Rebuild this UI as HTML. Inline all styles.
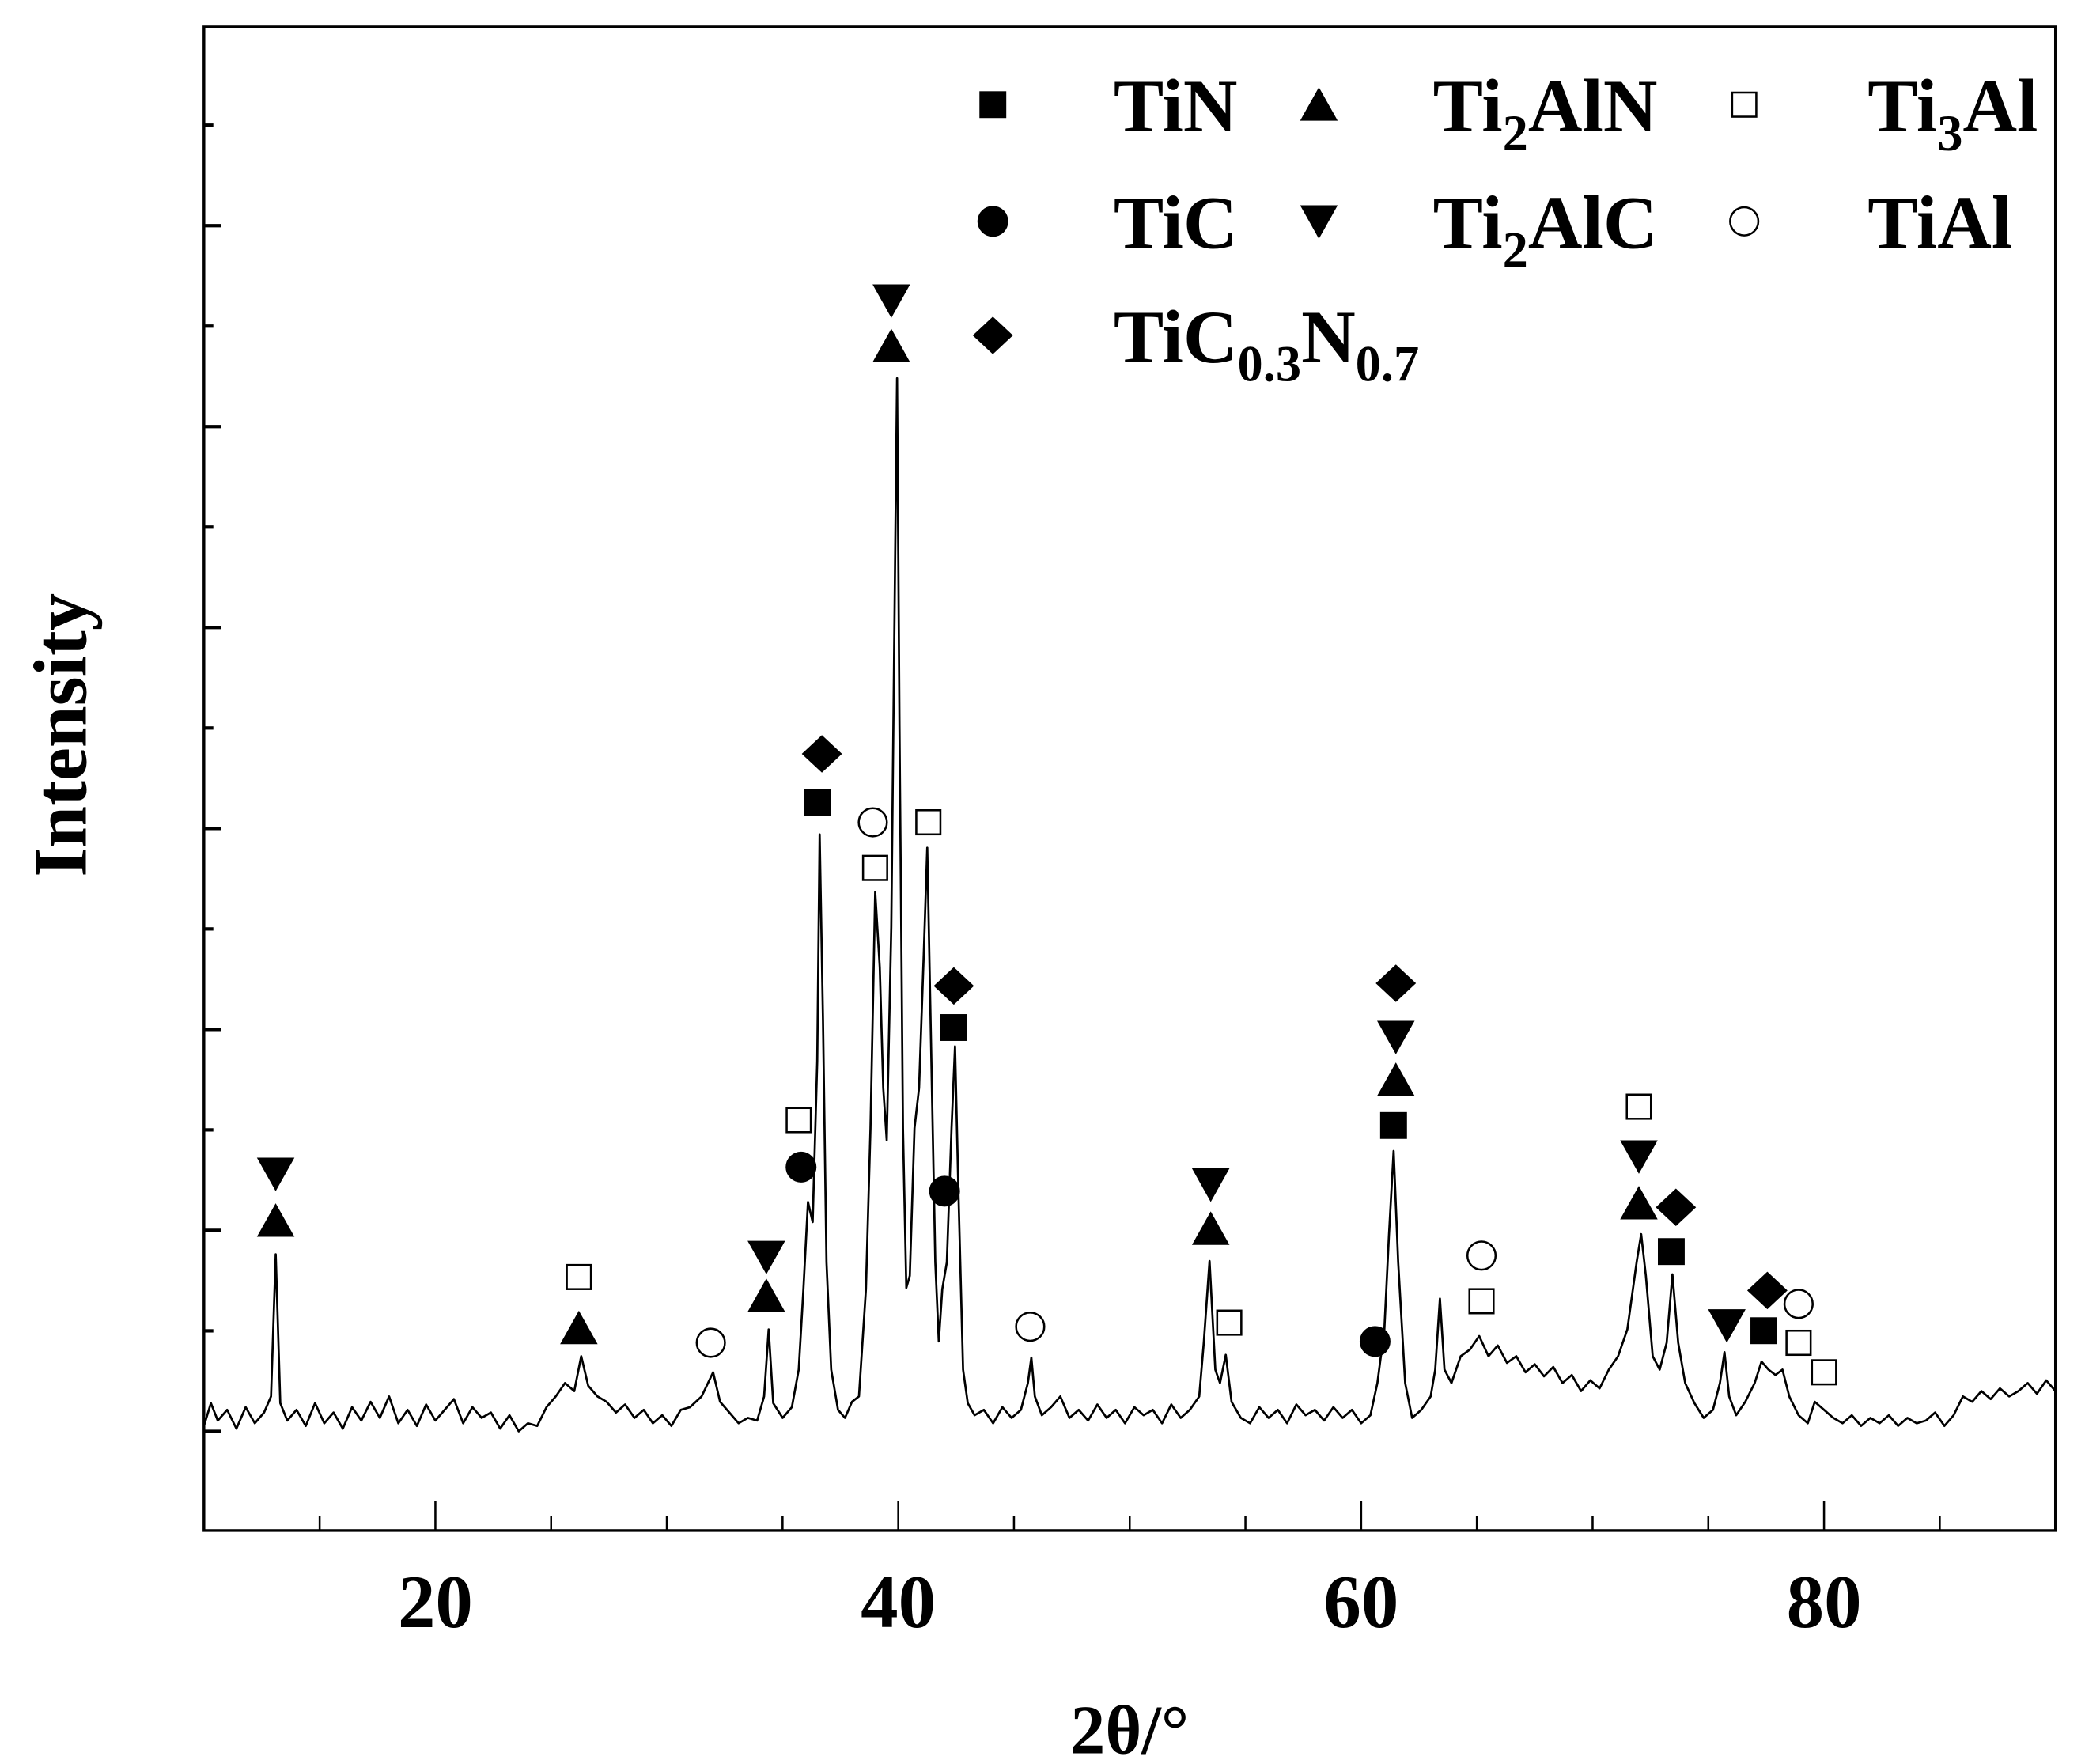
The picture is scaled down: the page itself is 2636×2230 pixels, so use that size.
<!DOCTYPE html>
<html><head><meta charset="utf-8"><style>
html,body{margin:0;padding:0;background:#fff;}
svg{display:block;}
text{font-family:"Liberation Serif",serif;font-weight:bold;fill:#000;}
</style></head><body>
<svg id="chart" width="2636" height="2230" viewBox="0 0 1554 1315" preserveAspectRatio="none" xmlns="http://www.w3.org/2000/svg">
<g id="frame"></g>
<g id="ticks"></g>
<g id="series"></g>
<g id="marks"></g>
<g id="legend"></g>
<text x="842" y="1307" font-size="52" text-anchor="middle">2θ/°</text>
<text x="0" y="0" font-size="56" text-anchor="middle" transform="translate(64,548) rotate(-90)">Intensity</text>
</svg>
<script>
const twoTheta = [10,10.3,10.6,11,11.4,11.8,12.2,12.6,12.9,13.1,13.3,13.6,14,14.4,14.8,15.2,15.6,16,16.4,16.8,17.2,17.6,18,18.4,18.8,19.2,19.6,20,20.4,20.8,21.2,21.6,22,22.4,22.8,23.2,23.6,24,24.4,24.8,25.2,25.6,26,26.3,26.6,27,27.4,27.8,28.2,28.6,29,29.4,29.8,30.2,30.6,31,31.5,32,32.3,32.7,33.1,33.5,33.9,34.2,34.4,34.6,35,35.4,35.7,35.9,36.1,36.3,36.5,36.6,36.75,36.9,37.1,37.4,37.7,38,38.3,38.6,38.8,39.0,39.2,39.35,39.5,39.7,39.85,39.95,40.05,40.2,40.35,40.5,40.7,40.9,41.1,41.25,41.4,41.6,41.75,41.9,42.1,42.3,42.45,42.6,42.8,43,43.3,43.7,44.1,44.5,44.9,45.3,45.6,45.75,45.9,46.2,46.6,47,47.4,47.8,48.2,48.6,49,49.4,49.8,50.2,50.6,51,51.4,51.8,52.2,52.6,53,53.2,53.45,53.7,53.9,54.15,54.4,54.8,55.2,55.6,56,56.4,56.8,57.2,57.6,58,58.4,58.8,59.2,59.6,60,60.4,60.7,61.0,61.2,61.4,61.6,61.9,62.2,62.6,63,63.2,63.4,63.6,63.9,64.3,64.7,65.1,65.5,65.9,66.3,66.7,67.1,67.5,67.9,68.3,68.7,69.1,69.5,69.9,70.3,70.7,71.1,71.5,71.9,72.1,72.3,72.6,72.9,73.2,73.45,73.7,74,74.4,74.8,75.2,75.5,75.7,75.9,76.2,76.6,77,77.3,77.6,77.9,78.2,78.5,78.9,79.3,79.6,80,80.4,80.8,81.2,81.6,82,82.4,82.8,83.2,83.6,84,84.4,84.8,85.2,85.6,86,86.4,86.8,87.2,87.6,88,88.4,88.8,89.2,89.6,90];
const intensity = [78,95,82,90,76,92,80,88,100,206,95,82,90,78,95,80,88,76,92,82,96,84,100,80,90,78,94,82,90,98,80,92,84,88,76,86,74,80,78,92,100,110,104,130,108,100,96,88,94,84,90,80,86,78,90,92,100,118,96,88,80,84,82,100,150,95,84,92,120,180,245,230,350,519,380,200,120,90,84,96,100,180,300,476,420,330,291,450,700,859,600,300,181,190,300,330,430,509,380,200,141,180,200,300,361,250,120,95,86,90,80,92,84,90,110,129,100,86,92,100,84,90,82,94,84,90,80,92,86,90,80,94,84,90,100,140,201,120,110,131,96,84,80,92,84,90,80,94,86,90,82,92,84,90,80,86,110,150,220,283,200,110,84,90,100,120,173,120,110,130,135,145,130,138,125,130,118,124,115,122,110,116,104,112,106,120,130,150,200,221,190,130,120,140,191,140,110,95,84,90,110,133,100,86,96,110,126,120,116,120,100,86,80,96,90,84,80,86,78,84,80,86,78,84,80,82,88,78,86,100,96,104,98,106,100,104,110,102,112,104];
const xTickValues = [20,40,60,80];
const xTickLabels = ["20","40","60","80"];
const markerTypes = ["dtri","tri","osq","tri","ocirc","dtri","tri","osq","circ","dia","sq","ocirc","osq","dtri","tri","osq","dia","sq","circ","ocirc","dtri","tri","osq","circ","dia","dtri","tri","sq","ocirc","osq","osq","dtri","tri","dia","sq","dtri","dia","sq","ocirc","osq","osq"];
const markerTheta = [13.1,13.1,26.2,26.2,31.9,34.3,34.3,35.7,35.8,36.7,36.5,38.9,39.0,39.7,39.7,41.3,42.4,42.4,42.0,45.7,53.5,53.5,54.3,60.6,61.5,61.5,61.5,61.4,65.2,65.2,72.0,72.0,72.0,73.6,73.4,75.8,77.55,77.4,78.9,78.9,80.0];
const markerI = [266,231,189,151,140,204,175,306,271,579,543,528,494,917,883,528,406,375,253,152,258,225,155,141,408,368,336,302,205,171,316,279,244,241,208,153,179,149,169,140,118];

const NS="http://www.w3.org/2000/svg";
const L=152,R=1532,T=20,B=1141;
function xs(v){return L+(v-10)/80*(R-L);}
function ys(v){return B-v;}
function mk(tag,attrs,parent){const e=document.createElementNS(NS,tag);for(const k in attrs)e.setAttribute(k,attrs[k]);parent.appendChild(e);return e;}
const frame=document.getElementById('frame');
const fr=mk('rect',{x:L,y:T,width:R-L,height:B-T,fill:'none',stroke:'#000','stroke-width':2},frame);


const tk=document.getElementById('ticks');
for(let v=10;v<=90;v+=5){
  const major=xTickValues.includes(v);
  if(v===10||v===90)continue;
  const l=mk('line',{x1:xs(v),x2:xs(v),y1:B,y2:B-(major?22:11),stroke:'#000','stroke-width':1.5},tk);
  
  
}
xTickValues.forEach((v,i)=>{
  const t=mk('text',{x:xs(v),y:1213,'font-size':56,'text-anchor':'middle'},tk);
  t.textContent=xTickLabels[i];
  
  
});
for(let k=0;k<14;k++){
  const y=1067-k*74.9;
  if(y<T+10)break;
  const major=k%2===0;
  const l=mk('line',{x1:L,x2:L+(major?13:7),y1:y,y2:y,stroke:'#000','stroke-width':2.5},tk);
  
  
}
const ser=document.getElementById('series');
let d='';
twoTheta.forEach((v,i)=>{d+=(i?'L':'M')+xs(v).toFixed(1)+','+ys(intensity[i]).toFixed(1);});
const p=mk('path',{d:d,fill:'none',stroke:'#000','stroke-width':1.6,'stroke-linejoin':'round'},ser);


function marker(type,cx,cy,parent){
  let e;
  if(type==='sq')e=mk('rect',{x:cx-10,y:cy-10,width:20,height:20,fill:'#000'},parent);
  else if(type==='osq')e=mk('rect',{x:cx-9,y:cy-9,width:18,height:18,fill:'#fff',stroke:'#000','stroke-width':1.5},parent);
  else if(type==='circ')e=mk('circle',{cx:cx,cy:cy,r:11.5,fill:'#000'},parent);
  else if(type==='ocirc')e=mk('circle',{cx:cx,cy:cy,r:10.5,fill:'#fff',stroke:'#000','stroke-width':1.5},parent);
  else if(type==='tri')e=mk('polygon',{points:`${cx-14},${cy+12} ${cx+14},${cy+12} ${cx},${cy-13}`,fill:'#000'},parent);
  else if(type==='dtri')e=mk('polygon',{points:`${cx-14},${cy-12} ${cx+14},${cy-12} ${cx},${cy+13}`,fill:'#000'},parent);
  else e=mk('polygon',{points:`${cx-15},${cy} ${cx},${cy-14} ${cx+15},${cy} ${cx},${cy+14}`,fill:'#000'},parent);
  return e;
}
const mg=document.getElementById('marks');
markerTypes.forEach((t,i)=>{
  const e=marker(t,xs(markerTheta[i]),ys(markerI[i]),mg);
  
  
});
const lg=document.getElementById('legend');
const legTypes=["sq","tri","osq","circ","dtri","ocirc","dia"];
const legLabels=['TiN','Ti<tspan font-size="38" dy="14">2</tspan><tspan dy="-14">AlN</tspan>','Ti<tspan font-size="38" dy="14">3</tspan><tspan dy="-14">Al</tspan>','TiC','Ti<tspan font-size="38" dy="14">2</tspan><tspan dy="-14">AlC</tspan>','TiAl','TiC<tspan font-size="38" dy="14">0.3</tspan><tspan dy="-14">N</tspan><tspan font-size="38" dy="14">0.7</tspan>'];
const legX=[740,983,1300],legTX=[830,1068,1392],legY=[78,165,250];
legTypes.forEach((t,i)=>{
  const c=i%3,r=Math.floor(i/3);
  const e=marker(t,legX[c],legY[r],lg);
  
  
  const tx=mk('text',{x:legTX[c],y:legY[r]+20,'font-size':56},lg);
  tx.innerHTML=legLabels[i];
  
  
});
</script>
</body></html>
